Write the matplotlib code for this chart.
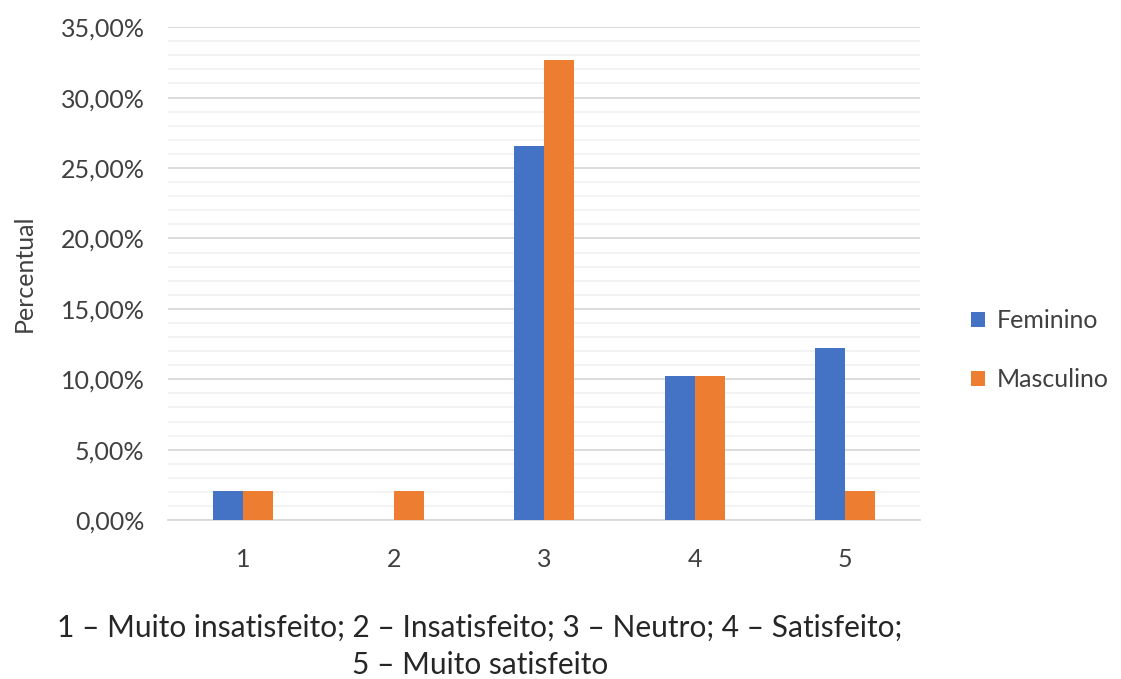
import numpy as np
import matplotlib.pyplot as plt
from matplotlib.ticker import MultipleLocator, FuncFormatter

categories = ["1", "2", "3", "4", "5"]
feminino = [2.04, 0.0, 26.53, 10.20, 12.24]
masculino = [2.04, 2.04, 32.65, 10.20, 2.04]
series_labels = ["Feminino", "Masculino"]
footer = "1 – Muito insatisfeito; 2 – Insatisfeito; 3 – Neutro; 4 – Satisfeito;\n5 – Muito satisfeito"

plt.rcParams['font.family'] = ['Lato', 'DejaVu Sans']

fig = plt.figure(figsize=(11.21, 6.79), dpi=100)
ax = fig.add_axes([0.150, 0.234, 0.671, 0.726])

x = np.arange(len(categories))
w = 0.2
ax.bar(x - w / 2, feminino, w, color="#4472C4", label=series_labels[0], zorder=3)
ax.bar(x + w / 2, masculino, w, color="#ED7D31", label=series_labels[1], zorder=3)

ax.set_xlim(-0.5, len(categories) - 0.5)
ax.set_ylim(0, 35)
ax.yaxis.set_major_locator(MultipleLocator(5))
ax.yaxis.set_minor_locator(MultipleLocator(1))
ax.yaxis.set_major_formatter(FuncFormatter(lambda v, p: f"{v:.2f}%".replace(".", ",")))
ax.grid(axis="y", which="major", color="#D9D9D9", linewidth=1.3, zorder=0)
ax.grid(axis="y", which="minor", color="#F2F2F2", linewidth=1.3, zorder=0)
ax.set_xticks(x)
ax.set_xticklabels(categories)
ax.tick_params(axis="both", which="both", length=0, labelsize=18, colors="#404040")
ax.tick_params(axis="y", pad=17)
ax.tick_params(axis="x", pad=20)
for s in ["top", "right", "left"]:
    ax.spines[s].set_visible(False)
ax.spines["bottom"].set_color("#D9D9D9")
ax.spines["bottom"].set_linewidth(1.3)

ax.set_ylabel("Percentual", fontsize=18, color="#404040", labelpad=18)

ax.legend(loc="center left", bbox_to_anchor=(1.068, 0.345), frameon=False,
          borderaxespad=0, borderpad=0,
          fontsize=18, handlelength=0.55, handleheight=0.55, labelspacing=1.45,
          handletextpad=0.45, labelcolor="#404040")

fig.text(0.428, 0.0, footer, ha="center", va="bottom", fontsize=21.5,
         color="#262626", linespacing=1.4)

fig.savefig("out.png", dpi=100, facecolor="white")
